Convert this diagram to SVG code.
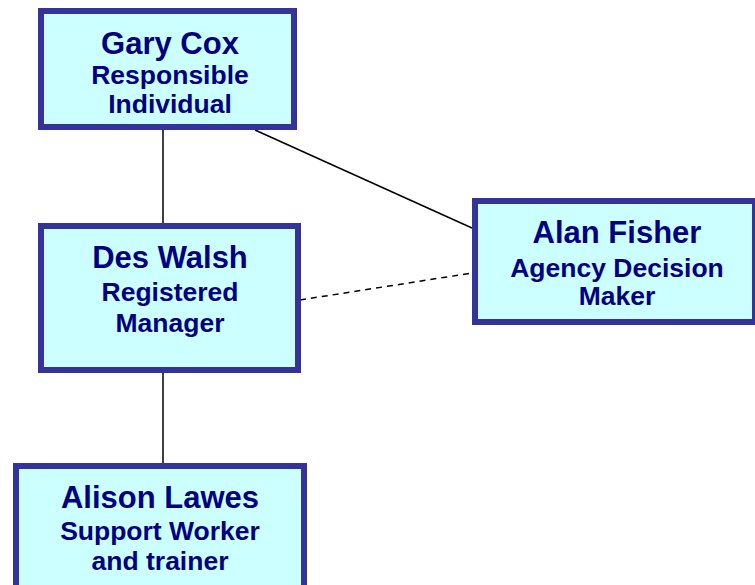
<svg xmlns="http://www.w3.org/2000/svg" width="755" height="585" viewBox="0 0 755 585">
<style>
.box{fill:#CCFFFF;stroke:#333399;stroke-width:6}
.t{font-family:"Liberation Sans",Arial,sans-serif;font-weight:bold;fill:#000080;text-anchor:middle}
.h{font-size:31px}
.s{font-size:26.5px}
.c{stroke:#000;stroke-width:1.5;fill:none}
.d{stroke-dasharray:6,5}
</style>
<rect width="755" height="585" fill="#fff"/>
<g id="connectors">
<line class="c" x1="163" y1="130" x2="163" y2="223"/>
<line class="c" x1="255" y1="130" x2="472" y2="228"/>
<line class="c d" x1="300" y1="300" x2="472" y2="273"/>
<line class="c" x1="163" y1="373" x2="163" y2="463"/>
</g>
<g id="gary">
<rect class="box" x="41" y="11" width="253" height="116"/>
<text class="t h" x="170" y="54">Gary Cox</text>
<text class="t s" x="170" y="84">Responsible</text>
<text class="t s" x="170" y="113">Individual</text>
</g>
<g id="des">
<rect class="box" x="41" y="226" width="257" height="144"/>
<text class="t h" x="170" y="268">Des Walsh</text>
<text class="t s" x="170" y="301">Registered</text>
<text class="t s" x="170" y="332">Manager</text>
</g>
<g id="alan">
<rect class="box" x="475" y="201" width="280" height="121"/>
<text class="t h" x="617" y="243">Alan Fisher</text>
<text class="t s" x="617" y="277">Agency Decision</text>
<text class="t s" x="617" y="305">Maker</text>
</g>
<g id="alison">
<rect class="box" x="16" y="466" width="288" height="125"/>
<text class="t h" x="160" y="508">Alison Lawes</text>
<text class="t s" x="160" y="540">Support Worker</text>
<text class="t s" x="160" y="570">and trainer</text>
</g>
</svg>
